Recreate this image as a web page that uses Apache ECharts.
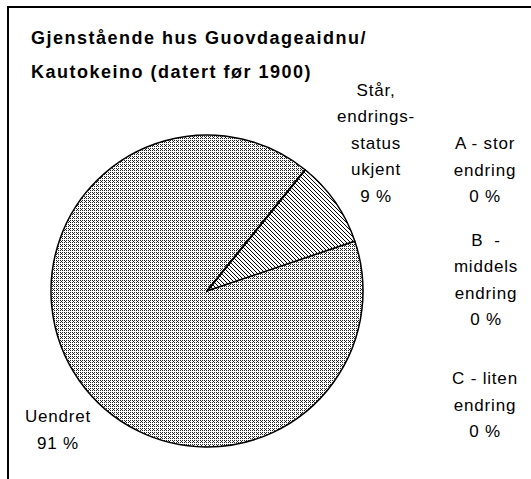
<!DOCTYPE html>
<html>
<head>
<meta charset="utf-8">
<script src="https://cdn.jsdelivr.net/npm/echarts@6/dist/echarts.min.js"></script>
<style>
  html, body { margin: 0; padding: 0; background: #fff; }
  #chart { width: 531px; height: 479px; }
  /* excel-ish wide glyph spacing */
  #chart text { letter-spacing: 0.8px; }
  #chart text[style*="bold"] { letter-spacing: 1.5px; }
</style>
</head>
<body>
<div id="chart"></div>
<script>
  // data
  const categories = ['Står,\nendrings-\nstatus\nukjent', 'Uendret', 'A - stor\nendring', 'B  -\nmiddels\nendring', 'C - liten\nendring'];
  const values = [9, 91, 0, 0, 0];

  // label anchor points (layout only)
  const labelPos = [[376, 143], [58, 430], [485, 170], [486, 280], [485, 405]];

  // fill patterns, like the old excel hatch fills
  function makeTile(size, draw) {
    const c = document.createElement('canvas');
    c.width = size; c.height = size;
    const ctx = c.getContext('2d');
    ctx.fillStyle = '#fff';
    ctx.fillRect(0, 0, size, size);
    draw(ctx);
    return c.toDataURL();
  }
  const dotted = makeTile(4, ctx => {
    ctx.fillStyle = '#222';
    [[0, 0], [2, 0], [0, 2], [2, 2], [1, 1]].forEach(p => ctx.fillRect(p[0], p[1], 1, 1));
  });
  const hatch = makeTile(4, ctx => {
    ctx.fillStyle = '#000';
    for (let i = 0; i < 4; i++) ctx.fillRect(i, i, 1, 1);
  });
  const fills = [
    { image: hatch, repeat: 'repeat', imageWidth: 4, imageHeight: 4 },
    { image: dotted, repeat: 'repeat', imageWidth: 4, imageHeight: 4 },
    '#fff', '#fff', '#fff'
  ];

  const chart = echarts.init(document.getElementById('chart'), null, { renderer: 'svg' });
  chart.setOption({
    animation: false,
    textStyle: { fontFamily: 'Liberation Sans, Arial, sans-serif' },
    title: {
      text: 'Gjenstående hus Guovdageaidnu/\nKautokeino (datert før 1900)',
      left: 31,
      top: 21,
      padding: 0,
      textStyle: { fontSize: 18, fontWeight: 'bold', color: '#000', lineHeight: 34 }
    },
    graphic: [{
      type: 'rect',
      shape: { x: 8, y: 7, width: 620, height: 600 },
      style: { fill: 'none', stroke: '#000', lineWidth: 2 },
      silent: true
    }],
    series: [{
      type: 'pie',
      center: [207, 291],
      radius: 156,
      startAngle: 51,
      clockwise: true,
      avoidLabelOverlap: false,
      silent: true,
      itemStyle: { borderColor: '#000', borderWidth: 1.5 },
      label: {
        show: true,
        color: '#000',
        fontSize: 17,
        lineHeight: 26.5,
        align: 'center',
        formatter: p => p.name + '\n' + p.value + ' %'
      },
      labelLine: { show: false },
      labelLayout: p => ({
        x: labelPos[p.dataIndex][0],
        y: labelPos[p.dataIndex][1],
        align: 'center',
        verticalAlign: 'middle'
      }),
      data: categories.map((c, i) => ({
        name: c,
        value: values[i],
        itemStyle: { color: fills[i] }
      }))
    }]
  });
</script>
</body>
</html>
